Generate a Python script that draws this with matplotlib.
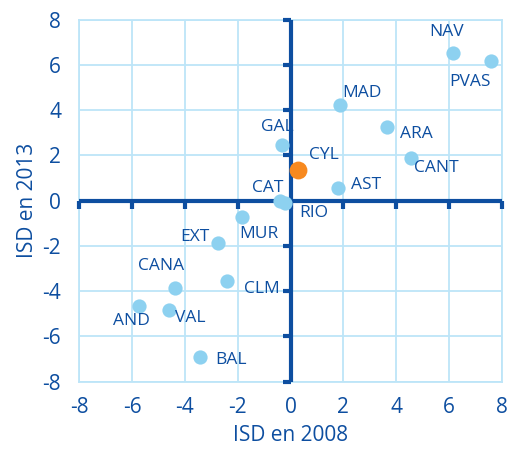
import numpy as np
import matplotlib
matplotlib.use("Agg")
from matplotlib import pyplot as plt

# region codes and ISD values (x = 2008, y = 2013)
regions = ["NAV", "PVAS", "MAD", "ARA", "CANT", "GAL", "CYL", "AST", "CAT", "RIO",
           "MUR", "EXT", "CLM", "CANA", "AND", "VAL", "BAL"]
isd_2008 = [6.14, 7.58, 1.88, 3.67, 4.56, -0.31, 0.28, 1.81, -0.40, -0.21,
            -1.85, -2.75, -2.42, -4.36, -5.73, -4.59, -3.44]
isd_2013 = [6.53, 6.18, 4.23, 3.27, 1.89, 2.48, 1.37, 0.56, -0.03, -0.12,
            -0.71, -1.87, -3.55, -3.85, -4.66, -4.85, -6.90]
highlight = "CYL"
ticks = [-8, -6, -4, -2, 0, 2, 4, 6, 8]

# label placement: (dx px, dy px, horizontal alignment)
label_pos = {
    "NAV": (-6, 21, "center"), "PVAS": (-21, -21, "center"), "MAD": (2, 12, "left"),
    "ARA": (13, -7, "left"), "CANT": (3, -10, "left"), "GAL": (-5, 18, "center"),
    "CYL": (11, 15, "left"), "AST": (13, 3, "left"), "CAT": (3, 13, "right"),
    "RIO": (14, -10, "left"), "MUR": (-2, -17, "left"), "EXT": (-8, 6, "right"),
    "CLM": (17, -8, "left"), "CANA": (-14, 22, "center"), "AND": (-8, -15, "center"),
    "VAL": (6, -8, "left"), "BAL": (16, -3, "left"),
}

dark = "#0d4ea0"
light = "#8dd1f0"
orange = "#f7891f"
gridc = "#bde5f8"

plt.rcParams["font.family"] = ["Open Sans", "DejaVu Sans"]
plt.rcParams["axes.unicode_minus"] = False

fig = plt.figure(figsize=(5.07, 4.5), dpi=100)
rect = [0.156, 0.152, 0.834, 0.804]

# background axes: grid, tick labels at the edges, axis titles
ax = fig.add_axes(rect)
ax.set_xlim(-8, 8)
ax.set_ylim(-8, 8)
ax.set_xticks(ticks)
ax.set_yticks(ticks)
ax.set_xticklabels([str(t) for t in ticks])
ax.set_yticklabels([str(t) for t in ticks])
ax.grid(True, color=gridc, linewidth=1.3)
ax.set_axisbelow(True)
for s in ax.spines.values():
    s.set_color(gridc)
    s.set_linewidth(1.3)
ax.tick_params(axis="y", length=0, labelsize=15, labelcolor=dark, pad=13)
ax.tick_params(axis="x", length=0, labelsize=15, labelcolor=dark, pad=11)
ax.set_xlabel("ISD en 2008", fontsize=15, color=dark, labelpad=5)
ax.set_ylabel("ISD en 2013", fontsize=15, color=dark, labelpad=3)

# overlay axes: axis lines crossing at zero, plus the points
ax2 = fig.add_axes(rect, facecolor="none")
ax2.set_xlim(-8, 8)
ax2.set_ylim(-8, 8)
ax2.set_xticks(ticks)
ax2.set_yticks(ticks)
ax2.set_xticklabels([])
ax2.set_yticklabels([])
ax2.spines["top"].set_visible(False)
ax2.spines["right"].set_visible(False)
for side in ["left", "bottom"]:
    ax2.spines[side].set_position("zero")
    ax2.spines[side].set_color(dark)
    ax2.spines[side].set_linewidth(3)
    ax2.spines[side].set_capstyle("butt")
ax2.tick_params(direction="out", length=6, width=3, color=dark)

for name, x, y in zip(regions, isd_2008, isd_2013):
    if name == highlight:
        ax2.scatter(x, y, s=165, color=orange, zorder=5, linewidths=0, clip_on=False)
    else:
        ax2.scatter(x, y, s=105, color=light, zorder=4, linewidths=0, clip_on=False)
    dx, dy, ha = label_pos[name]
    ax2.annotate(name, (x, y), xytext=(dx, dy), textcoords="offset pixels",
                 ha=ha, va="center", fontsize=12.5, color=dark, zorder=6)

fig.savefig("out.png", dpi=100)
